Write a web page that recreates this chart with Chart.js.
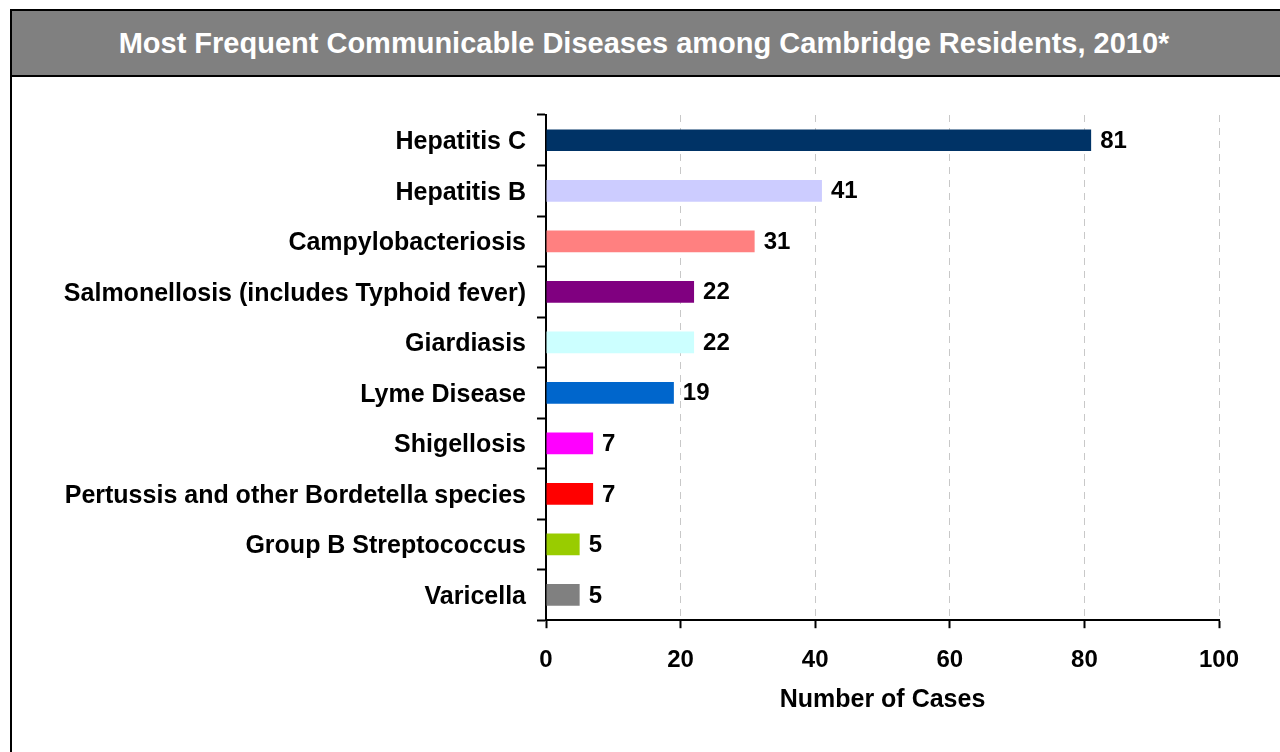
<!DOCTYPE html>
<html>
<head>
<meta charset="utf-8">
<script src="https://cdn.jsdelivr.net/npm/chart.js@4"></script>
<style>
  body { margin: 0; background: #fff; width: 1280px; height: 752px; overflow: hidden; position: relative; font-family: "Liberation Sans", Arial, sans-serif; }
  #frame { position: absolute; left: 10px; top: 9px; width: 1280px; height: 760px; border-left: 2px solid #000; border-top: 2px solid #000; }
  #titre { position: absolute; left: 12px; top: 11px; width: 1268px; height: 64px; background: #808080; border-bottom: 2px solid #000;
           color: #fff; font-weight: bold; font-size: 29px; line-height: 64px; text-align: center; text-indent: -4px; }
  #wrap { position: absolute; left: 0; top: 0; width: 1280px; height: 752px; }
</style>
</head>
<body>
<div id="frame"></div>
<div id="titre">Most Frequent Communicable Diseases among Cambridge Residents, 2010*</div>
<div id="wrap"><canvas id="grafico"></canvas></div>
<script>
// datos del grafico
const labels = ['Hepatitis C', 'Hepatitis B', 'Campylobacteriosis', 'Salmonellosis (includes Typhoid fever)',
    'Giardiasis', 'Lyme Disease', 'Shigellosis', 'Pertussis and other Bordetella species',
    'Group B Streptococcus', 'Varicella'];
const casos = [81, 41, 31, 22, 22, 19, 7, 7, 5, 5];
const colores = ['#003366', '#CCCCFF', '#FF8080', '#800080', '#CCFFFF', '#0066CC', '#FF00FF', '#FF0000', '#99CC00', '#808080'];
const ticksX = [0, 20, 40, 60, 80, 100];

const familia = '"Liberation Sans", Arial, sans-serif';
const fuente = { family: familia, weight: 'bold', size: 25 };
const fuenteNum = { family: familia, weight: 'bold', size: 24 };

// etiquetas con el valor al final de cada barra
const etiquetas = {
    id: 'etiquetas',
    afterDatasetsDraw(chart) {
        const ctx = chart.ctx;
        const meta = chart.getDatasetMeta(0);
        ctx.save();
        ctx.font = 'bold 24px ' + familia;
        ctx.fillStyle = '#000';
        ctx.textBaseline = 'middle';
        meta.data.forEach(function (bar, i) {
            ctx.fillText(casos[i], bar.x + 9, bar.y + 1);
        });
        ctx.restore();
    }
};

const graph = document.querySelector("#grafico");

const data = {
    labels: labels,
    datasets: [{
        data: casos,
        backgroundColor: colores,
        borderWidth: 0,
        categoryPercentage: 0.43,
        barPercentage: 1
    }]
};

const config = {
    type: 'bar',
    data: data,
    options: {
        indexAxis: 'y',
        responsive: false,
        animation: false,
        devicePixelRatio: 1,
        layout: { padding: { left: 0, top: 115, right: 61, bottom: 37 } },
        plugins: { legend: { display: false }, tooltip: { enabled: false } },
        scales: {
            x: {
                min: 0,
                max: 100,
                afterBuildTicks: function (scale) { scale.ticks = ticksX.map(v => ({ value: v })); },
                grid: { color: '#c8c8c8', lineWidth: 1, tickColor: '#000', tickWidth: 2, tickLength: 8 },
                border: { color: '#000', width: 2, dash: [7, 6] },
                ticks: { color: '#000', font: fuenteNum, padding: 18, maxRotation: 0 },
                title: { display: true, text: 'Number of Cases', color: '#000', font: fuente, padding: { top: -8, bottom: 0 } }
            },
            y: {
                afterFit: function (scale) { scale.width = 546; },
                grid: { drawOnChartArea: false, tickColor: '#000', tickWidth: 2, tickLength: 9, offset: true },
                border: { color: '#000', width: 2 },
                ticks: { color: '#000', font: fuente, padding: 11, labelOffset: 2 }
            }
        }
    },
    plugins: [etiquetas]
};

graph.width = 1280;
graph.height = 752;
new Chart(graph, config);
</script>
</body>
</html>
